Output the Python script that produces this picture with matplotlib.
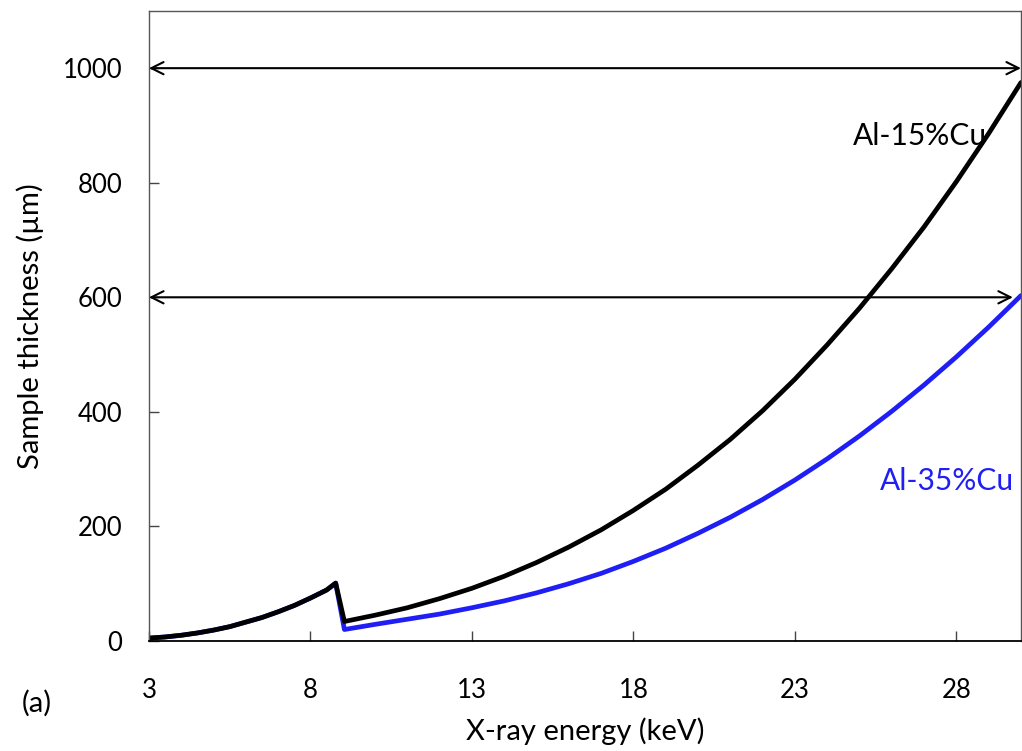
import numpy as np
import matplotlib.pyplot as plt

plt.rcParams['font.family'] = ['Lato', 'DejaVu Sans']

# Energies below the Cu K edge (both alloys follow the same curve here)
e_low = [3, 3.5, 4, 4.5, 5, 5.5, 6, 6.5, 7, 7.5, 8, 8.5, 8.78]
t_low = [5, 7, 10, 14, 19, 25, 33, 41, 51, 62, 75, 89, 101]

# Energies above the edge
e_high = [9.05, 10, 11, 12, 13, 14, 15, 16, 17, 18, 19, 20, 21, 22, 23, 24,
          25, 26, 27, 28, 29, 30]
t_al15 = [34, 45, 58, 74, 92, 113, 137, 164, 194, 228, 265, 307, 352, 402,
          457, 517, 581, 650, 723, 802, 886, 975]
t_al35 = [20, 29, 38, 47, 58, 70, 84, 100, 118, 139, 162, 188, 216, 247,
          281, 318, 358, 401, 447, 496, 548, 603]

x_ticks = [3, 8, 13, 18, 23, 28]
y_ticks = [0, 200, 400, 600, 800, 1000]

blue = '#1f1ff5'

fig = plt.figure(figsize=(10.22, 7.51), dpi=100)
ax = fig.add_axes([0.1458, 0.1465, 0.8532, 0.839])

ax.plot(e_low + e_high, t_low + t_al35, color=blue, lw=3.4,
        solid_joinstyle='round', solid_capstyle='round')
ax.plot(e_low + e_high, t_low + t_al15, color='black', lw=3.4,
        solid_joinstyle='round', solid_capstyle='round')

# thickness ranges
ax.annotate('', xy=(30, 1000), xytext=(3, 1000),
            arrowprops=dict(arrowstyle='<->', color='black', lw=1.5,
                            mutation_scale=22, shrinkA=0, shrinkB=0))
ax.annotate('', xy=(29.75, 600), xytext=(3, 600),
            arrowprops=dict(arrowstyle='<->', color='black', lw=1.5,
                            mutation_scale=22, shrinkA=0, shrinkB=0))

ax.text(28.95, 881, 'Al-15%Cu', fontsize=21.5, color='black',
        ha='right', va='center')
ax.text(29.8, 280, 'Al-35%Cu', fontsize=21.5, color=blue,
        ha='right', va='center')

ax.set_xlim(3, 30)
ax.set_ylim(0, 1100)
ax.set_xticks(x_ticks)
ax.set_yticks(y_ticks)
ax.tick_params(axis='both', direction='in', length=7, width=1,
               color='#444444', labelsize=18.5)
ax.tick_params(axis='x', pad=27)
ax.tick_params(axis='y', pad=19)

for side in ['top', 'left', 'right']:
    ax.spines[side].set_color('#555555')
    ax.spines[side].set_linewidth(1)
ax.spines['bottom'].set_color('black')
ax.spines['bottom'].set_linewidth(1.3)

ax.set_xlabel('X-ray energy (keV)', fontsize=21, labelpad=10)
ax.set_ylabel('Sample thickness (µm)', fontsize=21, labelpad=14)

fig.text(0.0357, 0.064, '(a)', fontsize=21, ha='center', va='center')

fig.savefig('out.png', dpi=100)
